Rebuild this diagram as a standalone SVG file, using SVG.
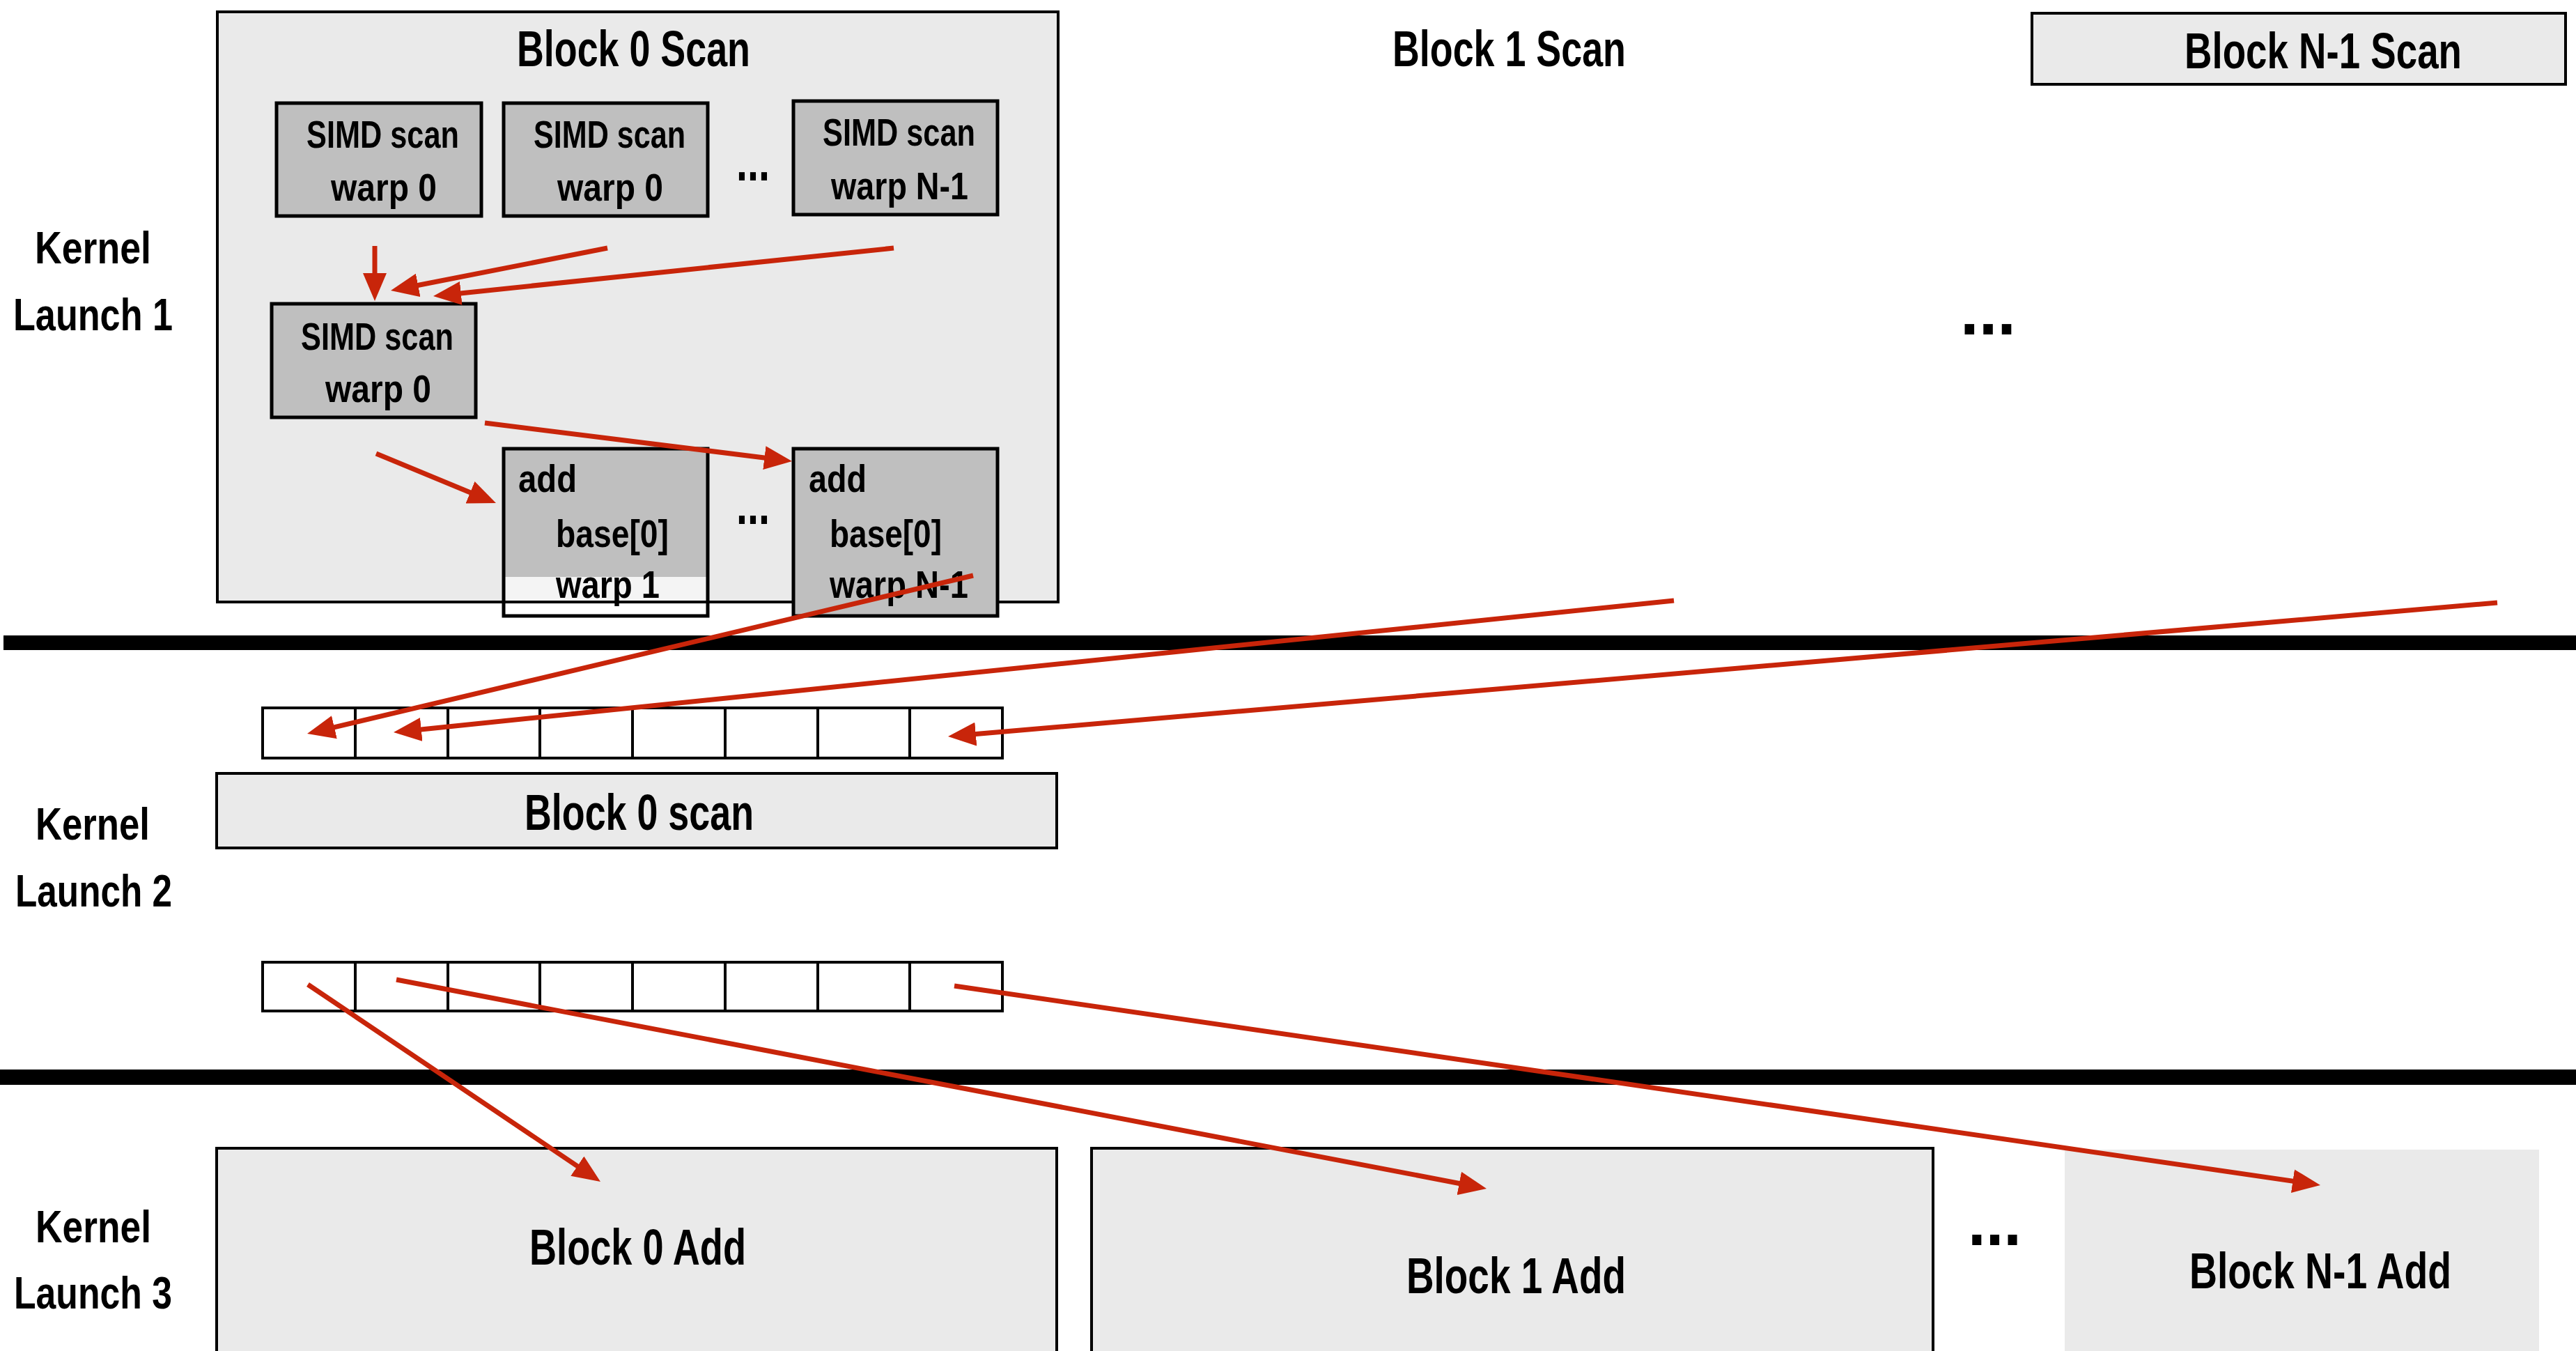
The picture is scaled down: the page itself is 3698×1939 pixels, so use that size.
<svg xmlns="http://www.w3.org/2000/svg" width="3698" height="1939" viewBox="0 0 3698 1939">
<style>
text{font-family:"Liberation Sans",Arial,sans-serif;font-weight:bold;fill:#000}
.blk{fill:#EAEAEA;stroke:#000;stroke-width:4}
.simd{fill:#BFBFBF;stroke:#000;stroke-width:5}
.cell{fill:#fff;stroke:#000;stroke-width:4}
.t72{font-size:72px}
.t55{font-size:55px}
.t64{font-size:64px}
.arr{stroke:#C8250A;stroke-width:7;fill:none;marker-end:url(#ah)}
.bar{fill:#000}
</style>
<defs>
<marker id="ah" markerUnits="userSpaceOnUse" markerWidth="40" markerHeight="34" refX="20" refY="17" orient="auto">
<path d="M0,0 L40,17 L0,34 Z" fill="#C8250A"/>
</marker>
</defs>
<rect width="3698" height="1939" fill="#fff"/>

<g id="labels">
<text class="t64" x="50" y="378" textLength="167" lengthAdjust="spacingAndGlyphs">Kernel</text>
<text class="t64" x="19" y="474" textLength="229" lengthAdjust="spacingAndGlyphs">Launch 1</text>
<text class="t64" x="51" y="1205" textLength="164" lengthAdjust="spacingAndGlyphs">Kernel</text>
<text class="t64" x="22" y="1301" textLength="225" lengthAdjust="spacingAndGlyphs">Launch 2</text>
<text class="t64" x="51" y="1783" textLength="166" lengthAdjust="spacingAndGlyphs">Kernel</text>
<text class="t64" x="20" y="1878" textLength="227" lengthAdjust="spacingAndGlyphs">Launch 3</text>
</g>

<g id="separators">
<rect class="bar" x="5" y="912" width="3693" height="21"/>
<rect class="bar" x="0" y="1535" width="3698" height="22"/>
</g>

<g id="block0scan">
<rect class="blk" x="312" y="17" width="1207" height="847"/>
<text class="t72" x="742" y="95" textLength="335" lengthAdjust="spacingAndGlyphs">Block 0 Scan</text>
</g>

<g id="simd1">
<rect class="simd" x="397" y="148" width="294" height="162"/>
<text class="t55" x="440" y="212" textLength="219" lengthAdjust="spacingAndGlyphs">SIMD scan</text>
<text class="t55" x="475" y="288" textLength="152" lengthAdjust="spacingAndGlyphs">warp 0</text>
</g>
<g id="simd2">
<rect class="simd" x="723" y="148" width="293" height="162"/>
<text class="t55" x="766" y="212" textLength="218" lengthAdjust="spacingAndGlyphs">SIMD scan</text>
<text class="t55" x="800" y="288" textLength="152" lengthAdjust="spacingAndGlyphs">warp 0</text>
</g>
<g id="dots1">
<text x="1057" y="259" style="font-size:80px" textLength="48" lengthAdjust="spacingAndGlyphs">...</text>
</g>
<g id="simd3">
<rect class="simd" x="1139" y="145" width="293" height="163"/>
<text class="t55" x="1181" y="209" textLength="219" lengthAdjust="spacingAndGlyphs">SIMD scan</text>
<text class="t55" x="1193" y="286" textLength="197" lengthAdjust="spacingAndGlyphs">warp N-1</text>
</g>
<g id="simdmid">
<rect class="simd" x="390" y="436" width="293" height="163"/>
<text class="t55" x="432" y="502" textLength="219" lengthAdjust="spacingAndGlyphs">SIMD scan</text>
<text class="t55" x="467" y="577" textLength="152" lengthAdjust="spacingAndGlyphs">warp 0</text>
</g>
<g id="addA">
<rect x="723" y="644" width="293" height="240" fill="#fff"/>
<rect x="723" y="644" width="293" height="184" fill="#BFBFBF"/>
<rect x="723" y="828" width="293" height="36" fill="#F4F4F4"/>
<line x1="723" y1="864" x2="1016" y2="864" stroke="#000" stroke-width="4"/>
<rect x="723" y="644" width="293" height="240" fill="none" stroke="#000" stroke-width="5"/>
<text class="t55" x="744" y="706" textLength="84" lengthAdjust="spacingAndGlyphs">add</text>
<text class="t55" x="798" y="785" textLength="162" lengthAdjust="spacingAndGlyphs">base[0]</text>
<text class="t55" x="798" y="858" textLength="149" lengthAdjust="spacingAndGlyphs">warp 1</text>
</g>
<g id="dots2">
<text x="1057" y="752" style="font-size:80px" textLength="48" lengthAdjust="spacingAndGlyphs">...</text>
</g>
<g id="addB">
<rect class="simd" x="1139" y="644" width="293" height="240"/>
<text class="t55" x="1161" y="706" textLength="83" lengthAdjust="spacingAndGlyphs">add</text>
<text class="t55" x="1191" y="785" textLength="161" lengthAdjust="spacingAndGlyphs">base[0]</text>
<text class="t55" x="1191" y="858" textLength="199" lengthAdjust="spacingAndGlyphs">warp N-1</text>
</g>

<g id="block1scan">
<text class="t72" x="1999" y="95" textLength="335" lengthAdjust="spacingAndGlyphs">Block 1 Scan</text>
</g>
<g id="dots3">
<text x="2814" y="480" style="font-size:100px" textLength="80" lengthAdjust="spacingAndGlyphs">...</text>
</g>
<g id="blockN1scan">
<rect class="blk" x="2917" y="19" width="766" height="102"/>
<text class="t72" x="3136" y="98" textLength="398" lengthAdjust="spacingAndGlyphs">Block N-1 Scan</text>
</g>

<g id="array1">
<rect class="cell" x="377" y="1016" width="1062" height="72"/>
<path d="M510,1016V1088M643,1016V1088M775,1016V1088M908,1016V1088M1041,1016V1088M1174,1016V1088M1306,1016V1088" stroke="#000" stroke-width="4"/>
</g>
<g id="block0scan2">
<rect class="blk" x="311" y="1110" width="1206" height="107"/>
<text class="t72" x="753" y="1191" textLength="329" lengthAdjust="spacingAndGlyphs">Block 0 scan</text>
</g>
<g id="array2">
<rect class="cell" x="377" y="1381" width="1062" height="70"/>
<path d="M510,1381V1451M643,1381V1451M775,1381V1451M908,1381V1451M1041,1381V1451M1174,1381V1451M1306,1381V1451" stroke="#000" stroke-width="4"/>
</g>

<g id="block0add">
<rect class="blk" x="311" y="1648" width="1206" height="300"/>
<text class="t72" x="760" y="1815" textLength="311" lengthAdjust="spacingAndGlyphs">Block 0 Add</text>
</g>
<g id="block1add">
<rect class="blk" x="1567" y="1648" width="1208" height="300"/>
<text class="t72" x="2019" y="1856" textLength="315" lengthAdjust="spacingAndGlyphs">Block 1 Add</text>
</g>
<g id="dots4">
<text x="2825" y="1787" style="font-size:100px" textLength="77" lengthAdjust="spacingAndGlyphs">...</text>
</g>
<g id="blockN1add">
<rect x="2964" y="1650" width="681" height="300" fill="#EAEAEA"/>
<text class="t72" x="3143" y="1849" textLength="376" lengthAdjust="spacingAndGlyphs">Block N-1 Add</text>
</g>

<g id="connectors">
<line class="arr" x1="538" y1="353" x2="538" y2="412"/>
<line class="arr" x1="872" y1="356" x2="580.6" y2="413.2"/>
<line class="arr" x1="1283" y1="356" x2="641.9" y2="422.9"/>
<line class="arr" x1="696" y1="607" x2="1117.2" y2="659.5"/>
<line class="arr" x1="540" y1="651" x2="693.5" y2="714.4"/>
<line class="arr" x1="1397" y1="826" x2="460.5" y2="1048.4"/>
<line class="arr" x1="2403" y1="862" x2="584.9" y2="1049"/>
<line class="arr" x1="3585" y1="865" x2="1380.9" y2="1055.3"/>
<line class="arr" x1="442" y1="1413" x2="845.4" y2="1684.8"/>
<line class="arr" x1="569" y1="1406" x2="2114.4" y2="1702.2"/>
<line class="arr" x1="1370" y1="1415" x2="3311.2" y2="1698.1"/>
</g>
</svg>
